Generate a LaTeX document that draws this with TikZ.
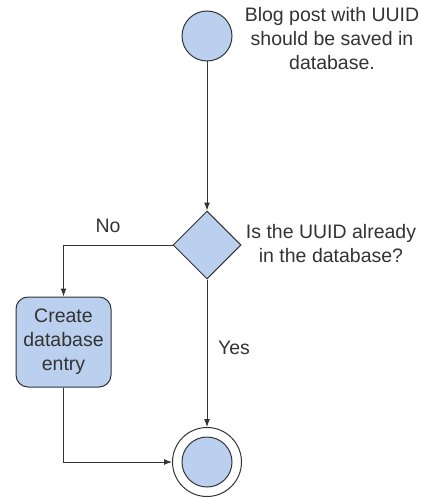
\documentclass[tikz,border=0pt]{standalone}
\usepackage{fontspec}
\setmainfont{Liberation Sans}
\usetikzlibrary{shapes.geometric,arrows.meta}
\definecolor{nodefill}{HTML}{BBD0EE}
\definecolor{linegray}{HTML}{333333}
\begin{document}
\begin{tikzpicture}[x=1pt,y=-1pt,
  every node/.append style={font=\fontsize{19.5}{24}\selectfont, text=linegray},
  statecircle/.style={circle, draw=linegray, line width=1pt, fill=nodefill, minimum size=50pt, inner sep=0pt},
  decision/.style={diamond, draw=linegray, line width=1pt, fill=nodefill, minimum size=68pt, inner sep=0pt, aspect=1},
  action/.style={rounded corners=12pt, draw=linegray, line width=1pt, fill=nodefill, minimum width=95pt, minimum height=90pt, align=center, inner sep=0pt},
  label/.style={align=center, inner sep=0pt},
  flow/.style={draw=linegray, line width=1pt, -{Latex[length=8pt,width=6pt]}}
]
\useasboundingbox (0,0) rectangle (421,497);
\node[statecircle] (start) at (207,36) {};
\node[label] (starttext) at (332,39) {Blog post with UUID\\should be saved in\\database.};
\node[decision] (dec) at (207,245) {};
\node[label] (dectext) at (331,244) {Is the UUID already\\in the database?};
\node[action] (create) at (63.5,342) {Create\\database\\entry};
\node[circle, draw=linegray, line width=1pt, fill=white, minimum size=69pt, inner sep=0pt] (endouter) at (207,462) {};
\node[statecircle] (endinner) at (207,462) {};
\node[label] (no) at (108,226) {No};
\node[label] (yes) at (234,348) {Yes};
\coordinate (corner1) at (63.5,245);
\coordinate (corner2) at (63.5,462);
\draw[flow] (start) -- (dec);
\draw[flow] (dec.west) -- (corner1) -- (create.north);
\draw[flow] (dec.south) -- (endouter.north);
\draw[flow] (create.south) -- (corner2) -- (endouter.west);
\end{tikzpicture}
\end{document}
